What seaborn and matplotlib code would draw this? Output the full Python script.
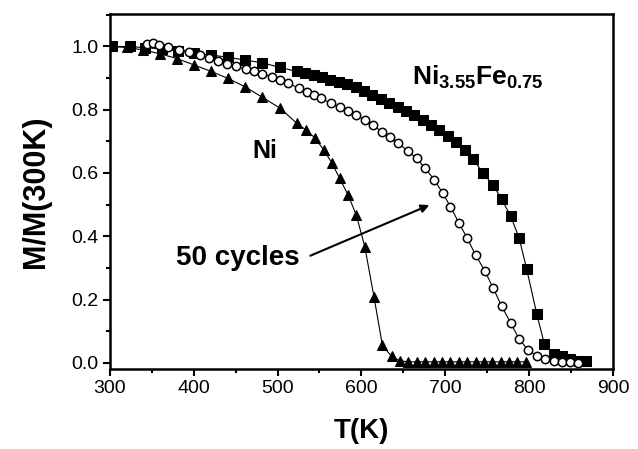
import seaborn as sns
import matplotlib.pyplot as plt
import numpy as np
import pandas as pd
from matplotlib.ticker import MultipleLocator

# Ni3.55Fe0.75 (filled squares)
sq_T = [303, 324, 342, 362, 381, 401, 421, 441, 461, 481, 503, 523, 533, 543, 553,
        563, 573, 583, 593, 603, 613, 623, 633, 643, 653, 663, 673, 683, 693, 703,
        713, 723, 733, 745, 757, 767, 778, 788, 797, 809, 818, 829, 839, 849, 859, 868]
sq_M = [1.000, 1.000, 0.996, 0.993, 0.987, 0.978, 0.973, 0.966, 0.957, 0.949, 0.934,
        0.921, 0.915, 0.909, 0.902, 0.895, 0.888, 0.880, 0.872, 0.860, 0.847, 0.834,
        0.822, 0.809, 0.796, 0.782, 0.767, 0.752, 0.735, 0.716, 0.697, 0.672, 0.645,
        0.599, 0.562, 0.518, 0.463, 0.394, 0.296, 0.154, 0.060, 0.028, 0.020, 0.012,
        0.007, 0.004]

# 50 cycles (open circles)
ci_T = [345, 352, 359, 370, 383, 395, 407, 418, 429, 440, 451, 463, 472, 481, 493,
        503, 513, 525, 535, 543, 552, 564, 574, 584, 594, 604, 614, 624, 634, 644,
        656, 666, 676, 687, 697, 706, 716, 726, 736, 747, 757, 767, 778, 788, 799,
        809, 819, 829, 839, 849, 858]
ci_M = [1.008, 1.010, 1.006, 0.998, 0.990, 0.982, 0.972, 0.964, 0.955, 0.946, 0.937,
        0.928, 0.921, 0.914, 0.905, 0.894, 0.884, 0.868, 0.857, 0.847, 0.836, 0.820,
        0.808, 0.795, 0.782, 0.768, 0.751, 0.731, 0.715, 0.694, 0.668, 0.646, 0.615,
        0.578, 0.536, 0.494, 0.443, 0.394, 0.341, 0.291, 0.236, 0.180, 0.125, 0.075,
        0.039, 0.022, 0.012, 0.006, 0.003, 0.001, 0.000]

# Ni (filled triangles)
tr_T = [300, 320, 340, 360, 380, 401, 421, 441, 461, 481, 503, 523, 534, 545, 555,
        565, 574, 584, 594, 604, 615, 625, 636, 646, 656, 666, 676, 686, 696, 706,
        716, 726, 736, 746, 756, 766, 776, 786, 796]
tr_M = [1.000, 0.997, 0.989, 0.977, 0.962, 0.941, 0.921, 0.899, 0.873, 0.841, 0.805,
        0.757, 0.736, 0.710, 0.673, 0.631, 0.583, 0.531, 0.466, 0.367, 0.208, 0.055,
        0.020, 0.006, 0.003, 0.003, 0.003, 0.003, 0.003, 0.003, 0.003, 0.003, 0.003,
        0.003, 0.003, 0.003, 0.003, 0.003, 0.003]

sns.set_style('ticks')
plt.rcParams['font.family'] = ['Liberation Sans', 'DejaVu Sans']
plt.rcParams['mathtext.fontset'] = 'custom'
plt.rcParams['mathtext.bf'] = 'Liberation Sans:bold'
plt.rcParams['mathtext.rm'] = 'Liberation Sans'
plt.rcParams['text.color'] = 'black'
plt.rcParams['axes.labelcolor'] = 'black'

fig = plt.figure(figsize=(6.38, 4.49), dpi=100)
ax = fig.add_axes([0.172, 0.178, 0.789, 0.791])

sq = pd.DataFrame({'T': sq_T, 'M': sq_M})
ci = pd.DataFrame({'T': ci_T, 'M': ci_M})
tr = pd.DataFrame({'T': tr_T, 'M': tr_M})

line_kw = dict(color='black', linewidth=0.8, markeredgecolor='black', ax=ax)
sns.lineplot(data=sq, x='T', y='M', marker='s', markersize=6.5, markerfacecolor='black', **line_kw)
sns.lineplot(data=ci, x='T', y='M', marker='o', markersize=6, markerfacecolor='white',
             markeredgewidth=1.1, **line_kw)
sns.lineplot(data=tr, x='T', y='M', marker='^', markersize=7.5, markerfacecolor='black', **line_kw)

ax.set_xlim(300, 900)
ax.set_ylim(-0.02, 1.103)
ax.xaxis.set_major_locator(MultipleLocator(100))
ax.xaxis.set_minor_locator(MultipleLocator(50))
ax.yaxis.set_major_locator(MultipleLocator(0.2))
ax.yaxis.set_minor_locator(MultipleLocator(0.1))
ax.yaxis.set_major_formatter(plt.FuncFormatter(lambda v, p: f'{v:.1f}'))

ax.tick_params(which='major', direction='out', length=5, width=1.5, labelsize=14, pad=3,
               colors='black')
ax.tick_params(which='minor', direction='out', length=3, width=1.5, colors='black')
for s in ax.spines.values():
    s.set_linewidth(1.8)
    s.set_color('black')
    s.set_visible(True)

ax.set_xlabel('T(K)', fontsize=20, fontweight='bold', labelpad=15)
ax.set_ylabel('M/M(300K)', fontsize=22, fontweight='bold', labelpad=15)

ax.text(470, 0.648, 'Ni', fontsize=18, fontweight='bold', ha='left', va='baseline')
ax.text(660, 0.878, r'$\mathbf{Ni_{3.55}Fe_{0.75}}$', fontsize=19, ha='left', va='baseline')
ax.text(379, 0.31, '50 cycles', fontsize=20, fontweight='bold', ha='left', va='baseline')
ax.annotate('', xy=(684, 0.502), xytext=(536, 0.335),
            arrowprops=dict(arrowstyle='-|>', color='black', lw=1.5, mutation_scale=12))

fig.savefig('out.png', dpi=100)
